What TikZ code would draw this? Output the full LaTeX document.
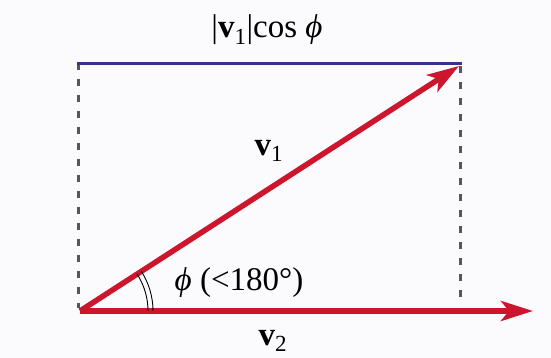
\documentclass[tikz,border=0pt]{standalone}
\usepackage{fontspec}
\setmainfont{Liberation Serif}
\usetikzlibrary{arrows.meta}
\definecolor{vred}{RGB}{205,22,45}
\definecolor{vblue}{RGB}{55,50,140}
\definecolor{dgrey}{RGB}{85,85,90}
\definecolor{paper}{RGB}{251,251,253}
\begin{document}
\begin{tikzpicture}[x=1pt,y=1pt,
  vec/.style={vred, line width=5.5pt, -{Stealth[length=32pt,width=20pt,inset=8pt]}},
  proj/.style={dgrey, line width=3pt, dash pattern=on 7pt off 9pt},
  topline/.style={vblue, line width=2.6pt},
  anglearc/.style={black, line width=0.9pt},
  lbl/.style={font=\fontsize{33}{38}\selectfont, inner sep=0pt}]
\fill[paper] (0,0) rectangle (551,358);
\useasboundingbox (0,0) rectangle (551,358);
\coordinate (O) at (80,47);
\coordinate (A) at (459,292);
\coordinate (B) at (533,47);
\coordinate (C) at (77,294.5);
\coordinate (E) at (462,294.5);
\coordinate (F) at (460,53);
\coordinate (Cd) at (78,295);
\coordinate (Od) at (78,50);
\coordinate (Ed) at (460,292);
% projection box
\draw[proj] (Cd) -- (Od);
\draw[proj] (Ed) -- (F);
\draw[topline] (C) -- (E);
% vectors
\draw[vec] (O) -- (B);
\draw[vec] (O) -- (A);
% angle mark
\draw[anglearc] ([shift={(0:68)}]O) arc[start angle=0,end angle=33,radius=68];
\draw[anglearc] ([shift={(0:73)}]O) arc[start angle=0,end angle=33,radius=73];
% labels
\node[lbl] (ltop) at (267,328) {|\textbf{v}\textsubscript{1}|cos \textit{ϕ}};
\node[lbl] (lv1) at (269,207) {\textbf{v}\textsubscript{1}};
\node[lbl] (lv2) at (273,17) {\textbf{v}\textsubscript{2}};
\node[lbl] (lphi) at (239,75) {\textit{ϕ} (<180°)};
\end{tikzpicture}
\end{document}
